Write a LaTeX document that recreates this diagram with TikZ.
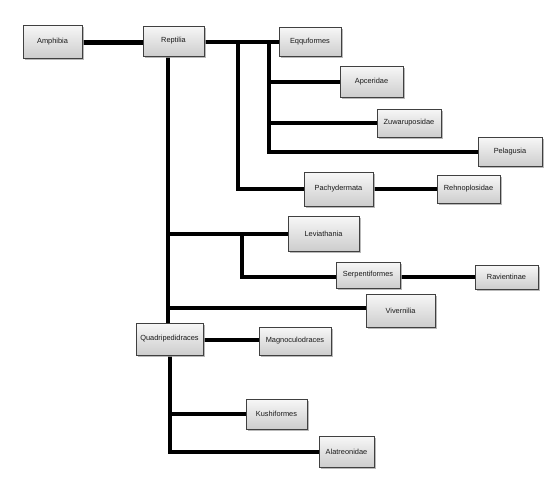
\documentclass[tikz,border=0pt]{standalone}
\usepackage{fontspec}
\setmainfont{Liberation Sans}
\usetikzlibrary{shadows,backgrounds}
\definecolor{boxborder}{HTML}{404040}
\definecolor{boxtop}{HTML}{F7F7F7}
\definecolor{boxbot}{HTML}{CDCDCD}
\definecolor{shadowgray}{HTML}{A8A8A8}
\tikzset{
  taxon/.style={draw=boxborder, line width=1pt, top color=boxtop, bottom color=boxbot,
    inner sep=0pt, font=\fontsize{7.4}{8}\selectfont, text=black!90,
    drop shadow={shadow xshift=2pt, shadow yshift=-2pt, fill=shadowgray, opacity=0.8}},
  link/.style={line width=4pt, line join=miter, black},
  thicklink/.style={line width=5pt, black}
}
\begin{document}
\begin{tikzpicture}[x=1pt,y=-1pt]
\useasboundingbox (0,0) rectangle (554,479);
\node[taxon, minimum width=59pt, minimum height=33pt] (amph) at (52.5,41.5) {Amphibia};
\node[taxon, minimum width=61pt, minimum height=30pt] (rept) at (173.5,41) {Reptilia};
\node[taxon, minimum width=62pt, minimum height=29pt] (eqqu) at (310,41.5) {Eqquformes};
\node[taxon, minimum width=63pt, minimum height=31pt] (apce) at (371.5,81.5) {Apceridae};
\node[taxon, minimum width=64pt, minimum height=28pt] (zuwa) at (409,123) {Zuwaruposidae};
\node[taxon, minimum width=64pt, minimum height=29pt] (pela) at (510,151.5) {Pelagusia};
\node[taxon, minimum width=69pt, minimum height=34pt] (pach) at (338.5,189) {Pachydermata};
\node[taxon, minimum width=63pt, minimum height=28pt] (rehn) at (468.5,189) {Rehnoplosidae};
\node[taxon, minimum width=71pt, minimum height=35pt] (levi) at (323.5,233.5) {Leviathania};
\node[taxon, minimum width=64pt, minimum height=26pt] (serp) at (368,275) {Serpentiformes};
\node[taxon, minimum width=63pt, minimum height=24pt] (ravi) at (506.5,277) {Ravientinae};
\node[taxon, minimum width=69pt, minimum height=33pt] (vive) at (400.5,310.5) {Vivernilia};
\node[taxon, minimum width=67pt, minimum height=32pt] (quad) at (169.5,339) {Quadripedidraces};
\node[taxon, minimum width=72pt, minimum height=28pt] (magn) at (295,341) {Magnoculodraces};
\node[taxon, minimum width=61pt, minimum height=30pt] (kush) at (276.5,414) {Kushiformes};
\node[taxon, minimum width=55pt, minimum height=31pt] (alat) at (346.5,451.5) {Alatreonidae};
\coordinate (ja) at (238,42);
\coordinate (jb) at (269,42);
\coordinate (jc) at (242,233);
\coordinate (tx) at (168,0);
\coordinate (qx) at (170,0);
\coordinate (ya) at (0,42.5);
\coordinate (yr) at (0,42);
\coordinate (ys) at (0,277);
\coordinate (yq) at (0,339.5);
\coordinate (yv) at (0,308);
\begin{scope}[on background layer]
\fill[white] (0,0) rectangle (554,479);
\draw[thicklink] (amph.east |- ya) -- (rept.west |- ya);
\draw[link] (rept.east |- yr) -- (eqqu.west |- yr);
\draw[link] (ja) |- (pach.west);
\draw[link] (jb) |- (pela.west);
\draw[link] (jb |- apce.west) -- (apce.west);
\draw[link] (jb |- zuwa.west) -- (zuwa.west);
\draw[link] (pach.east) -- (rehn.west);
\draw[link] (rept.south -| tx) -- (quad.north -| tx);
\draw[link] (tx |- levi.west) -- (levi.west);
\draw[link] (tx |- yv) -- (vive.west |- yv);
\draw[link] (jc) |- (serp.west |- ys);
\draw[link] (serp.east |- ys) -- (ravi.west |- ys);
\draw[link] (quad.east |- yq) -- (magn.west |- yq);
\draw[link] (quad.south -| qx) |- (alat.west);
\draw[link] (qx |- kush.west) -- (kush.west);
\end{scope}
\end{tikzpicture}
\end{document}
